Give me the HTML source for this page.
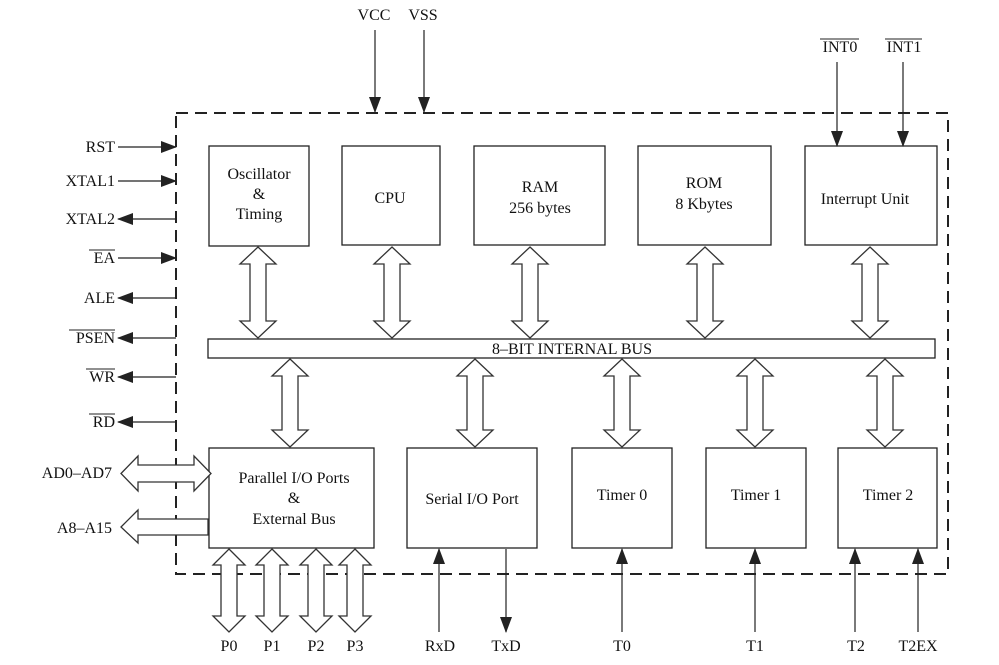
<!DOCTYPE html>
<html><head><meta charset="utf-8"><style>
html,body{margin:0;padding:0;background:#fff}
svg{display:block}
text{font-family:"Liberation Serif",serif;font-size:16px;fill:#111}
</style></head><body>
<svg id="s" width="999" height="665" viewBox="0 0 999 665" xmlns="http://www.w3.org/2000/svg">
<defs>
<marker id="ah2" markerWidth="16" markerHeight="12" refX="15" refY="6" orient="auto" markerUnits="userSpaceOnUse">
<path d="M0,0 L16,6 L0,12 Z" fill="#222"/></marker>
</defs>
<g fill="none" stroke="#222" stroke-width="1.3">
<rect x="176" y="113" width="772" height="461" stroke-dasharray="12,7" stroke-width="2"/>
<rect x="209" y="146" width="100" height="100"/>
<rect x="342" y="146" width="98" height="99"/>
<rect x="474" y="146" width="131" height="99"/>
<rect x="638" y="146" width="133" height="99"/>
<rect x="805" y="146" width="132" height="99"/>
<rect x="208" y="339" width="727" height="19"/>
<rect x="209" y="448" width="165" height="100"/>
<rect x="407" y="448" width="130" height="100"/>
<rect x="572" y="448" width="100" height="100"/>
<rect x="706" y="448" width="100" height="100"/>
<rect x="838" y="448" width="99" height="100"/>
</g>
<g id="arr" fill="#fff" stroke="#333" stroke-width="1.3"></g>
<g stroke="#222" stroke-width="1.2" fill="none">
<line x1="118" y1="147" x2="176" y2="147" marker-end="url(#ah2)"/>
<line x1="118" y1="181" x2="176" y2="181" marker-end="url(#ah2)"/>
<line x1="176" y1="219" x2="118" y2="219" marker-end="url(#ah2)"/>
<line x1="118" y1="258" x2="176" y2="258" marker-end="url(#ah2)"/>
<line x1="176" y1="298" x2="118" y2="298" marker-end="url(#ah2)"/>
<line x1="176" y1="338" x2="118" y2="338" marker-end="url(#ah2)"/>
<line x1="176" y1="377" x2="118" y2="377" marker-end="url(#ah2)"/>
<line x1="176" y1="422" x2="118" y2="422" marker-end="url(#ah2)"/>
<line x1="375" y1="30" x2="375" y2="112" marker-end="url(#ah2)"/>
<line x1="424" y1="30" x2="424" y2="112" marker-end="url(#ah2)"/>
<line x1="837" y1="62" x2="837" y2="146" marker-end="url(#ah2)"/>
<line x1="903" y1="62" x2="903" y2="146" marker-end="url(#ah2)"/>
<line x1="439" y1="632" x2="439" y2="549" marker-end="url(#ah2)"/>
<line x1="506" y1="549" x2="506" y2="632" marker-end="url(#ah2)"/>
<line x1="622" y1="632" x2="622" y2="549" marker-end="url(#ah2)"/>
<line x1="755" y1="632" x2="755" y2="549" marker-end="url(#ah2)"/>
<line x1="855" y1="632" x2="855" y2="549" marker-end="url(#ah2)"/>
<line x1="918" y1="632" x2="918" y2="549" marker-end="url(#ah2)"/>
</g>
<g text-anchor="end">
<text x="115" y="152">RST</text>
<text x="115" y="186">XTAL1</text>
<text x="115" y="224">XTAL2</text>
<text x="115" y="263">EA</text>
<text x="115" y="303">ALE</text>
<text x="115" y="343">PSEN</text>
<text x="115" y="382">WR</text>
<text x="115" y="427">RD</text>
<text x="112" y="478">AD0–AD7</text>
<text x="112" y="533">A8–A15</text>
</g>
<g stroke="#222" stroke-width="1">
<line x1="89" y1="250" x2="115" y2="250"/>
<line x1="69" y1="330" x2="115" y2="330"/>
<line x1="86" y1="369" x2="115" y2="369"/>
<line x1="89" y1="414" x2="115" y2="414"/>
<line x1="820" y1="39" x2="859" y2="39"/>
<line x1="885" y1="39" x2="922" y2="39"/>
</g>
<g text-anchor="middle">
<text x="374" y="20">VCC</text>
<text x="423" y="20">VSS</text>
<text x="840" y="52">INT0</text>
<text x="904" y="52">INT1</text>
<text x="259" y="179">Oscillator</text>
<text x="259" y="199">&amp;</text>
<text x="259" y="219">Timing</text>
<text x="390" y="203">CPU</text>
<text x="540" y="192">RAM</text>
<text x="540" y="213">256 bytes</text>
<text x="704" y="188">ROM</text>
<text x="704" y="209">8 Kbytes</text>
<text x="865" y="204">Interrupt Unit</text>
<text x="572" y="354">8–BIT INTERNAL BUS</text>
<text x="294" y="483">Parallel I/O Ports</text>
<text x="294" y="503">&amp;</text>
<text x="294" y="524">External Bus</text>
<text x="472" y="504">Serial I/O Port</text>
<text x="622" y="500">Timer 0</text>
<text x="756" y="500">Timer 1</text>
<text x="888" y="500">Timer 2</text>
<text x="229" y="651">P0</text>
<text x="272" y="651">P1</text>
<text x="316" y="651">P2</text>
<text x="355" y="651">P3</text>
<text x="440" y="651">RxD</text>
<text x="506" y="651">TxD</text>
<text x="622" y="651">T0</text>
<text x="755" y="651">T1</text>
<text x="856" y="651">T2</text>
<text x="918" y="651">T2EX</text>
</g>
</svg>
<script>
var g=document.getElementById('arr'),h='';
function v(cx,y1,y2,H,S,L){H=H||18;S=S||8;L=L||17;
h+='<path d="M'+cx+','+y1+' L'+(cx+H)+','+(y1+L)+' L'+(cx+S)+','+(y1+L)+' L'+(cx+S)+','+(y2-L)+' L'+(cx+H)+','+(y2-L)+' L'+cx+','+y2+' L'+(cx-H)+','+(y2-L)+' L'+(cx-S)+','+(y2-L)+' L'+(cx-S)+','+(y1+L)+' L'+(cx-H)+','+(y1+L)+' Z"/>';}
[258,392,530,705,870].forEach(function(x){v(x,247,338);});
[290,475,622,755,885].forEach(function(x){v(x,359,447);});
[229,272,316,355].forEach(function(x){v(x,549,632,16,8,16);});
h+='<path d="M121,473.5 L138,456 L138,465 L194,465 L194,456 L211,473.5 L194,491 L194,482 L138,482 L138,491 Z"/>';
h+='<path d="M121,527 L138,510 L138,519 L208,519 L208,535 L138,535 L138,543 Z"/>';
g.innerHTML=h;
</script>
</body></html>
